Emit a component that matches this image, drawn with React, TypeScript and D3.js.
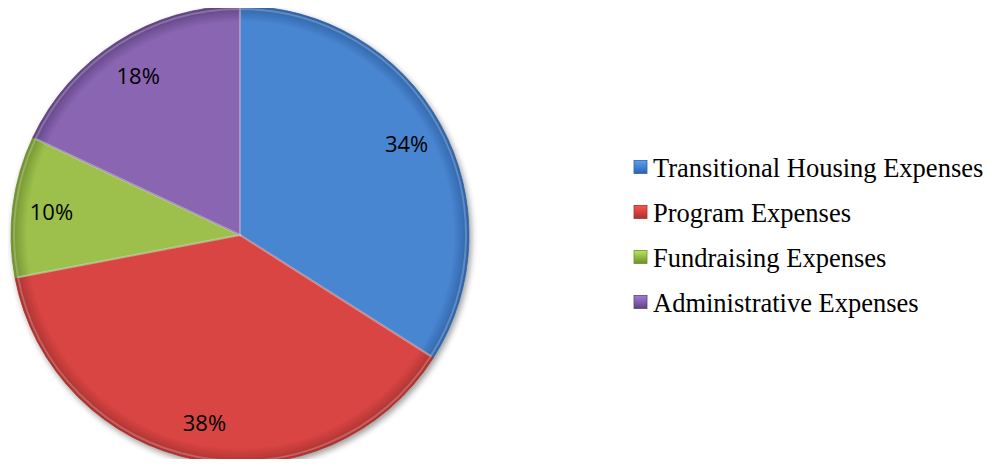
import React from "react";
import * as d3 from "d3";

const categories = ["Transitional Housing Expenses", "Program Expenses", "Fundraising Expenses", "Administrative Expenses"];
const values = [34, 38, 10, 18];
const labels = ["34%", "38%", "10%", "18%"];
const colors = ["#4a86d2", "#d94543", "#9cc04c", "#8a65b2"];
const darkColors = ["#2f63a6", "#a83230", "#6f8f2e", "#5e4382"];

export default function App() {
  const W = 992, H = 467;
  const cx = 240, cy = 235, R = 229;
  const pie = d3.pie<number>().sort(null).value((d) => d)(values);
  const arc = d3.arc<d3.PieArcDatum<number>>().innerRadius(0).outerRadius(R);
  const innerArc = d3.arc<d3.PieArcDatum<number>>().innerRadius(0).outerRadius(R - 3);
  const labelArc = d3.arc<d3.PieArcDatum<number>>().innerRadius(R * 0.83).outerRadius(R * 0.83);
  const legendY = d3.scalePoint<string>().domain(categories).range([167, 302]);
  return (
    <div style={{ margin: -8 }}>
      <svg width={W} height={H} style={{ display: "block" }}>
        <defs>
          <filter id="shadow" x="-10%" y="-10%" width="130%" height="130%">
            <feGaussianBlur in="SourceAlpha" stdDeviation="3" />
            <feOffset dx="2" dy="3" result="b" />
            <feComponentTransfer><feFuncA type="linear" slope="0.4" /></feComponentTransfer>
            <feMerge><feMergeNode /><feMergeNode in="SourceGraphic" /></feMerge>
          </filter>
          {colors.map((c, i) => (
            <radialGradient key={i} id={`g${i}`} cx={0} cy={0} r={R} gradientUnits="userSpaceOnUse">
              <stop offset="0" stopColor={c} />
              <stop offset="0.93" stopColor={c} />
              <stop offset="1" stopColor={darkColors[i]} />
            </radialGradient>
          ))}
          {colors.map((c, i) => (
            <linearGradient key={i} id={`lg${i}`} x1="0" y1="0" x2="0" y2="1">
              <stop offset="0" stopColor={d3.color(c)!.brighter(0.5).toString()} />
              <stop offset="1" stopColor={darkColors[i]} />
            </linearGradient>
          ))}
        </defs>
        <g transform={`translate(${cx},${cy})`} filter="url(#shadow)">
          {pie.map((p, i) => (
            <path key={i} d={arc(p)!} fill={`url(#g${i})`} stroke={darkColors[i]} strokeWidth={0.8} />
          ))}
          {pie.map((p, i) => (
            <path key={"h" + i} d={innerArc(p)!} fill="none" stroke="#ffffff" strokeOpacity={0.22} strokeWidth={2} />
          ))}
        </g>
        <g transform={`translate(${cx},${cy})`}>
          {pie.map((p, i) => {
            const [x, y] = labelArc.centroid(p);
            return (
              <text key={i} x={x} y={y} textAnchor="middle" dominantBaseline="central"
                fontFamily="'Open Sans', 'Noto Sans', sans-serif" fontSize={22} fill="#000">
                {labels[i]}
              </text>
            );
          })}
        </g>
        <g>
          {categories.map((c, i) => (
            <g key={c} transform={`translate(634,${legendY(c)})`}>
              <rect x={0} y={-6.5} width={13} height={13} fill={`url(#lg${i})`} stroke={darkColors[i]} strokeWidth={0.8} />
              <text x={19} y={1} dominantBaseline="central" fontFamily="'Liberation Serif', 'Times New Roman', serif"
                fontSize={26.5} fill="#000">{c}</text>
            </g>
          ))}
        </g>
      </svg>
    </div>
  );
}
